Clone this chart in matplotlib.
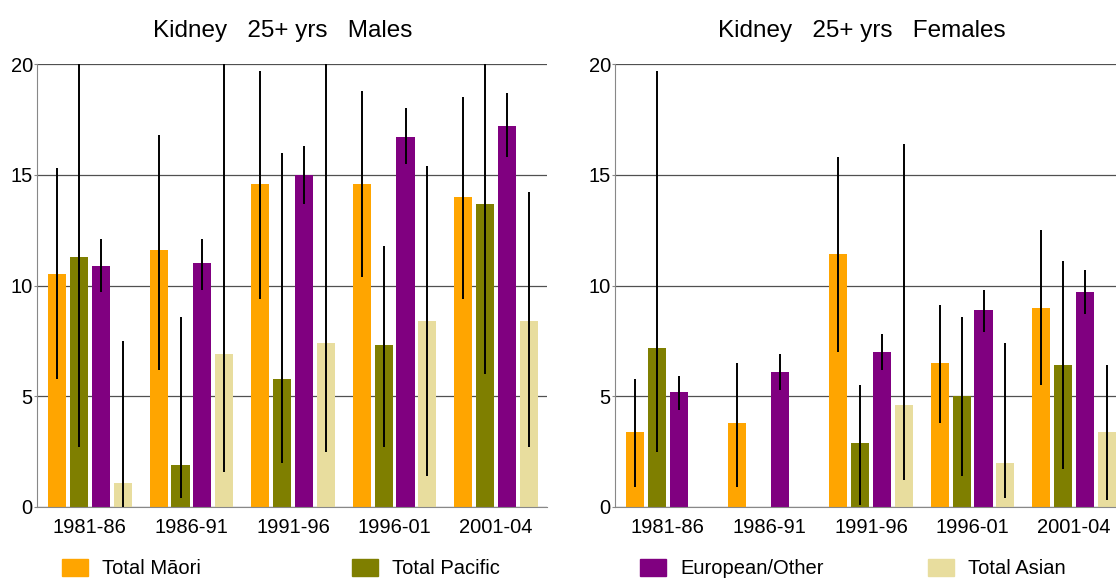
import matplotlib
matplotlib.use("Agg")
import matplotlib.pyplot as plt
from matplotlib.patches import Patch
import numpy as np

plt.rcParams["font.family"] = ["Liberation Sans", "DejaVu Sans"]

# Dados
periods = ["1981-86", "1986-91", "1991-96", "1996-01", "2001-04"]
groups = ["Total Māori", "Total Pacific", "European/Other", "Total Asian"]
colors = ["#FFA500", "#7F7F00", "#800080", "#E8DD9E"]

# Homens: taxa, limite inferior, limite superior
m_maori = [10.5, 11.6, 14.6, 14.6, 14.0]
m_maori_lo = [5.8, 6.2, 9.4, 10.4, 9.4]
m_maori_hi = [15.3, 16.8, 19.7, 18.8, 18.5]
m_pacific = [11.3, 1.9, 5.8, 7.3, 13.7]
m_pacific_lo = [2.7, 0.4, 2.0, 2.7, 6.0]
m_pacific_hi = [22.0, 8.6, 16.0, 11.8, 22.0]
m_euro = [10.9, 11.0, 15.0, 16.7, 17.2]
m_euro_lo = [9.7, 9.8, 13.7, 15.5, 15.8]
m_euro_hi = [12.1, 12.1, 16.3, 18.0, 18.7]
m_asian = [1.1, 6.9, 7.4, 8.4, 8.4]
m_asian_lo = [0.0, 1.6, 2.5, 1.4, 2.7]
m_asian_hi = [7.5, 22.0, 22.0, 15.4, 14.2]

# Mulheres (nan = sem dado)
f_maori = [3.4, 3.8, 11.4, 6.5, 9.0]
f_maori_lo = [0.9, 0.9, 7.0, 3.8, 5.5]
f_maori_hi = [5.8, 6.5, 15.8, 9.1, 12.5]
f_pacific = [7.2, np.nan, 2.9, 5.0, 6.4]
f_pacific_lo = [2.5, np.nan, 0.1, 1.4, 1.7]
f_pacific_hi = [19.7, np.nan, 5.5, 8.6, 11.1]
f_euro = [5.2, 6.1, 7.0, 8.9, 9.7]
f_euro_lo = [4.4, 5.3, 6.2, 7.9, 8.7]
f_euro_hi = [5.9, 6.9, 7.8, 9.8, 10.7]
f_asian = [np.nan, np.nan, 4.6, 2.0, 3.4]
f_asian_lo = [np.nan, np.nan, 1.2, 0.4, 0.3]
f_asian_hi = [np.nan, np.nan, 16.4, 7.4, 6.4]

males = [(m_maori, m_maori_lo, m_maori_hi), (m_pacific, m_pacific_lo, m_pacific_hi),
         (m_euro, m_euro_lo, m_euro_hi), (m_asian, m_asian_lo, m_asian_hi)]
females = [(f_maori, f_maori_lo, f_maori_hi), (f_pacific, f_pacific_lo, f_pacific_hi),
           (f_euro, f_euro_lo, f_euro_hi), (f_asian, f_asian_lo, f_asian_hi)]

W, H = 1116, 578
fig = plt.figure(figsize=(W / 100, H / 100), dpi=100)
ax1 = fig.add_axes([37 / W, 1 - 507 / H, 510 / W, 443 / H])
ax2 = fig.add_axes([615 / W, 1 - 507 / H, 510 / W, 443 / H])

x = np.arange(len(periods))
step = 0.215
width = 0.178
offsets = [-1.5 * step, -0.5 * step, 0.5 * step, 1.5 * step]


def draw(ax, series):
    for (vals, lo, hi), c, off in zip(series, colors, offsets):
        vals = np.array(vals, dtype=float)
        ax.bar(x + off, vals, width, color=c, zorder=2)
        ax.vlines(x + off, lo, hi, color="black", lw=1.4, zorder=3)
    ax.set_xlim(-0.52, 4.5)
    ax.set_ylim(0, 20)
    ax.set_yticks([0, 5, 10, 15, 20])
    ax.set_xticks(x)
    ax.set_xticklabels(periods)
    ax.grid(axis="y", color="#505050", lw=0.9, zorder=0)
    ax.set_axisbelow(True)
    for s in ["top", "right"]:
        ax.spines[s].set_visible(False)
    ax.spines["left"].set_color("#888888")
    ax.spines["bottom"].set_color("#888888")
    ax.tick_params(axis="x", length=0, labelsize=14.5, pad=8)
    ax.tick_params(axis="y", length=2, color="#888888", labelsize=14.5, pad=1)


draw(ax1, males)
draw(ax2, females)

fig.text(283 / W, 1 - 31 / H, "Kidney   25+ yrs   Males", ha="center", va="center", fontsize=17.5)
fig.text(862 / W, 1 - 31 / H, "Kidney   25+ yrs   Females", ha="center", va="center", fontsize=17.5)

# Legenda (encostada na borda de baixo, como no original)
leg_x = [62, 352, 640, 928]
for name, c, lx in zip(groups, colors, leg_x):
    fig.legend(handles=[Patch(color=c, label=name)], loc="upper left",
               bbox_to_anchor=(lx / W, 1 - 559 / H), frameon=False, fontsize=14.5,
               handlelength=1.3, handleheight=0.9, handletextpad=0.7,
               borderaxespad=0, borderpad=0)

plt.savefig("out.png", dpi=100)
